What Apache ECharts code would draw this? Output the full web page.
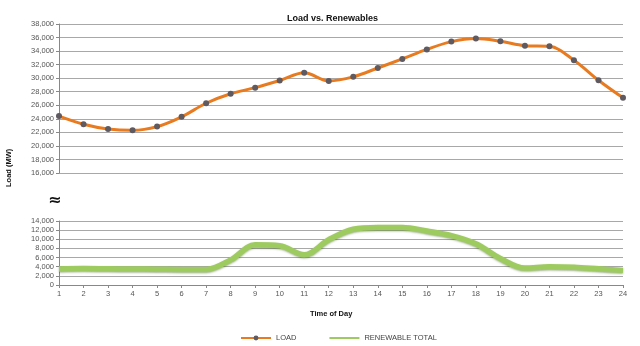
<!DOCTYPE html>
<html><head><meta charset="utf-8">
<script src="https://cdn.jsdelivr.net/npm/echarts@6/dist/echarts.min.js"></script>
<style>html,body{margin:0;padding:0;background:#fff}#c{width:640px;height:346px}</style>
</head><body><div id="c"></div>
<script>
const hours = ['1','2','3','4','5','6','7','8','9','10','11','12','13','14','15','16','17','18','19','20','21','22','23','24'];
const loadMW = [24400,23200,22500,22300,22850,24300,26300,27700,28600,29650,30800,29600,30200,31500,32850,34250,35400,35850,35450,34800,34700,32650,29700,27100];
const renewableMW = [3500,3600,3550,3500,3450,3400,3400,5500,8800,8600,6600,9900,12200,12600,12600,11800,10800,9000,5800,3700,4000,3900,3550,3200];

const chart = echarts.init(document.getElementById('c'));
const lbl = {color:'#555', fontSize:7.5, fontFamily:'Liberation Sans', margin:5};
const fmt = v => v.toLocaleString('en-US');
chart.setOption({
  animation:false,
  title:{text:'Load vs. Renewables', left:282, top:9, textStyle:{fontSize:9, fontWeight:'bold', color:'#111', fontFamily:'Liberation Sans'}},
  legend:{top:329, left:235, itemGap:32, itemWidth:30, itemHeight:6, textStyle:{fontSize:7.5, color:'#444', fontFamily:'Liberation Sans'},
    data:['LOAD', {name:'RENEWABLE TOTAL', itemStyle:{color:'rgba(0,0,0,0)', borderWidth:0, opacity:0}}]},
  graphic:[
    {type:'text', rotation:Math.PI/2, x:5, y:187, style:{text:'Load (MW)', font:'bold 7.5px Liberation Sans', fill:'#111'}},
    {type:'text', x:48, y:193, style:{text:'≈', font:'bold 16px DejaVu Sans', fill:'#111'}},
    {type:'text', x:310, y:310, style:{text:'Time of Day', font:'bold 7.5px Liberation Sans', fill:'#111'}}
  ],
  grid:[
    {left:59, right:17, top:24, height:149},
    {left:59, right:17, top:221, height:64}
  ],
  xAxis:[
    {type:'category', gridIndex:0, data:hours, boundaryGap:false, axisLabel:{show:false}, axisTick:{show:false}, axisLine:{show:false}},
    {type:'category', gridIndex:1, data:hours, boundaryGap:false, axisLabel:lbl,
      axisTick:{show:true, length:3, lineStyle:{color:'#888'}}, axisLine:{lineStyle:{color:'#888'}}}
  ],
  yAxis:[
    {type:'value', gridIndex:0, min:16000, max:38000, interval:2000, axisLabel:Object.assign({formatter:fmt}, lbl),
      axisLine:{show:true, lineStyle:{color:'#888'}}, axisTick:{show:true, length:3, lineStyle:{color:'#888'}},
      splitLine:{lineStyle:{color:'#a8a8a8', width:1}}},
    {type:'value', gridIndex:1, min:0, max:14000, interval:2000, axisLabel:Object.assign({formatter:fmt}, lbl),
      axisLine:{show:true, lineStyle:{color:'#888'}}, axisTick:{show:true, length:3, lineStyle:{color:'#888'}},
      splitLine:{lineStyle:{color:'#a8a8a8', width:1}}}
  ],
  series:[
    {name:'LOAD', type:'line', xAxisIndex:0, yAxisIndex:0, data:loadMW, smooth:0.35,
      lineStyle:{color:'#e87b20', width:3}, itemStyle:{color:'#5e5a60'}, symbol:'circle', symbolSize:6},
    {name:'RENEWABLE TOTAL', type:'line', xAxisIndex:1, yAxisIndex:1, data:renewableMW, smooth:0.35, symbol:'none',
      lineStyle:{color:'#9ecb5f', width:5.5, shadowColor:'rgba(60,90,20,0.45)', shadowBlur:2, shadowOffsetY:1}, itemStyle:{color:'#9ecb5f'}}
  ]
});
</script></body></html>
